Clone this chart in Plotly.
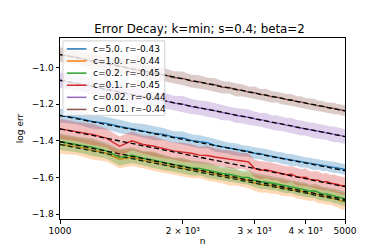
import plotly.graph_objects as go

# ── Data ──────────────────────────────────────────────────────────────────
N = list(range(1000, 5001, 100))

LABELS = ["c=5.0. r=-0.43", "c=1.0. r=-0.44", "c=0.2. r=-0.45",
          "c=0.1. r=-0.45", "c=0.02. r=-0.44", "c=0.01. r=-0.44"]
COLORS = ["#1f77b4", "#ff7f0e", "#2ca02c", "#d62728", "#9467bd", "#8c564b"]
FILLS = ["rgba(31,119,180,0.3)", "rgba(255,127,14,0.3)", "rgba(44,160,44,0.3)",
         "rgba(214,39,40,0.3)", "rgba(148,103,189,0.3)", "rgba(140,86,75,0.3)"]

err_c5 = [-1.262, -1.275, -1.295, -1.305, -1.322, -1.335, -1.345, -1.358, -1.365, -1.380,
          -1.385, -1.398, -1.405, -1.410, -1.425, -1.432, -1.440, -1.448, -1.455, -1.458,
          -1.468, -1.470, -1.478, -1.485, -1.488, -1.495, -1.500, -1.505, -1.508, -1.515,
          -1.518, -1.522, -1.528, -1.530, -1.535, -1.538, -1.542, -1.545, -1.548, -1.552, -1.556]
err_c1 = [-1.420, -1.432, -1.450, -1.468, -1.500, -1.490, -1.505, -1.515, -1.530, -1.540,
          -1.548, -1.558, -1.562, -1.572, -1.580, -1.590, -1.598, -1.600, -1.612, -1.615,
          -1.630, -1.638, -1.640, -1.645, -1.650, -1.655, -1.660, -1.665, -1.670, -1.675,
          -1.680, -1.688, -1.685, -1.695, -1.700, -1.705, -1.708, -1.712, -1.720, -1.728, -1.730]
err_c02 = [-1.405, -1.420, -1.435, -1.455, -1.490, -1.478, -1.495, -1.505, -1.518, -1.530,
           -1.535, -1.548, -1.550, -1.560, -1.570, -1.578, -1.582, -1.590, -1.598, -1.600,
           -1.615, -1.622, -1.625, -1.630, -1.635, -1.640, -1.648, -1.650, -1.658, -1.662,
           -1.668, -1.675, -1.672, -1.680, -1.688, -1.690, -1.695, -1.700, -1.705, -1.712, -1.715]
err_c01 = [-1.335, -1.350, -1.365, -1.385, -1.430, -1.400, -1.420, -1.430, -1.445, -1.455,
           -1.462, -1.468, -1.478, -1.480, -1.488, -1.495, -1.500, -1.505, -1.510, -1.515,
           -1.550, -1.560, -1.558, -1.565, -1.570, -1.580, -1.585, -1.582, -1.595, -1.600,
           -1.598, -1.610, -1.612, -1.615, -1.625, -1.622, -1.630, -1.632, -1.638, -1.645, -1.645]
err_c002 = [-1.070, -1.086, -1.103, -1.122, -1.132, -1.150, -1.158, -1.172, -1.180, -1.195,
            -1.200, -1.213, -1.220, -1.228, -1.236, -1.246, -1.252, -1.262, -1.266, -1.272,
            -1.280, -1.285, -1.290, -1.300, -1.303, -1.308, -1.316, -1.318, -1.326, -1.330,
            -1.333, -1.340, -1.344, -1.348, -1.352, -1.356, -1.362, -1.365, -1.368, -1.373, -1.376]
err_c001 = [-0.930, -0.945, -0.968, -0.978, -0.992, -1.010, -1.018, -1.033, -1.040, -1.055,
            -1.060, -1.075, -1.080, -1.090, -1.095, -1.108, -1.110, -1.122, -1.125, -1.135,
            -1.138, -1.148, -1.150, -1.160, -1.162, -1.170, -1.175, -1.178, -1.186, -1.188,
            -1.195, -1.200, -1.203, -1.210, -1.212, -1.218, -1.221, -1.224, -1.228, -1.232, -1.236]

# half-width of the shaded band
sd_c5 = [0.038, 0.035, 0.040, 0.034, 0.037, 0.033, 0.036, 0.039, 0.034, 0.032,
         0.036, 0.033, 0.035, 0.031, 0.034, 0.032, 0.030, 0.034, 0.031, 0.029,
         0.032, 0.030, 0.033, 0.031, 0.029, 0.032, 0.030, 0.033, 0.029, 0.031,
         0.028, 0.030, 0.032, 0.028, 0.030, 0.027, 0.029, 0.031, 0.028, 0.029, 0.030]
sd_c1 = [0.050, 0.046, 0.052, 0.045, 0.049, 0.047, 0.044, 0.050, 0.046, 0.043,
         0.047, 0.045, 0.042, 0.046, 0.044, 0.041, 0.045, 0.043, 0.040, 0.044,
         0.042, 0.045, 0.041, 0.043, 0.040, 0.044, 0.042, 0.039, 0.043, 0.041,
         0.044, 0.040, 0.042, 0.045, 0.041, 0.043, 0.040, 0.044, 0.042, 0.046, 0.043]
sd_c02 = [0.045, 0.042, 0.047, 0.041, 0.044, 0.043, 0.040, 0.045, 0.042, 0.039,
          0.043, 0.041, 0.038, 0.042, 0.040, 0.037, 0.041, 0.039, 0.036, 0.040,
          0.038, 0.041, 0.037, 0.039, 0.036, 0.040, 0.038, 0.035, 0.039, 0.037,
          0.040, 0.036, 0.038, 0.041, 0.037, 0.039, 0.036, 0.040, 0.038, 0.041, 0.039]
sd_c01 = [0.055, 0.052, 0.058, 0.050, 0.054, 0.051, 0.049, 0.055, 0.050, 0.047,
          0.052, 0.049, 0.046, 0.051, 0.048, 0.045, 0.049, 0.047, 0.044, 0.048,
          0.046, 0.049, 0.045, 0.047, 0.044, 0.048, 0.046, 0.043, 0.047, 0.045,
          0.048, 0.044, 0.046, 0.049, 0.045, 0.047, 0.044, 0.048, 0.046, 0.049, 0.047]
sd_c002 = [0.042, 0.040, 0.044, 0.039, 0.042, 0.045, 0.041, 0.038, 0.043, 0.040,
           0.044, 0.041, 0.039, 0.043, 0.040, 0.042, 0.038, 0.041, 0.039, 0.042,
           0.040, 0.037, 0.041, 0.039, 0.042, 0.038, 0.040, 0.043, 0.039, 0.041,
           0.038, 0.040, 0.042, 0.039, 0.041, 0.038, 0.040, 0.043, 0.039, 0.041, 0.040]
sd_c001 = [0.040, 0.038, 0.042, 0.036, 0.040, 0.035, 0.038, 0.041, 0.036, 0.034,
           0.038, 0.035, 0.037, 0.033, 0.036, 0.034, 0.032, 0.036, 0.033, 0.031,
           0.034, 0.030, 0.033, 0.031, 0.029, 0.032, 0.030, 0.033, 0.029, 0.031,
           0.028, 0.030, 0.032, 0.028, 0.030, 0.027, 0.029, 0.031, 0.028, 0.029, 0.030]

# fitted power-law lines: value at n=1000 and n=5000
FIT_N = [1000, 5000]
fit_c5 = [-1.262, -1.563]
fit_c1 = [-1.420, -1.728]
fit_c02 = [-1.405, -1.720]
fit_c01 = [-1.335, -1.650]
fit_c002 = [-1.070, -1.377]
fit_c001 = [-0.930, -1.237]

MEANS = [err_c5, err_c1, err_c02, err_c01, err_c002, err_c001]
SDS = [sd_c5, sd_c1, sd_c02, sd_c01, sd_c002, sd_c001]
FITS = [fit_c5, fit_c1, fit_c02, fit_c01, fit_c002, fit_c001]

FONT = "DejaVu Sans, sans-serif"

# plot area in pixels (used to place the hand-built legend)
L, R, T, B = 46, 337, 30, 217
W, H = 374, 249


def px(x):
    return (x - L) / (R - L)


def py(y):
    return (B - y) / (B - T)


fig = go.Figure()

for i in range(6):
    m, s = MEANS[i], SDS[i]
    lo = [a - b for a, b in zip(m, s)]
    hi = [a + b for a, b in zip(m, s)]
    fig.add_trace(go.Scatter(x=N + N[::-1], y=hi + lo[::-1], fill="toself",
                             fillcolor=FILLS[i], line=dict(width=0),
                             mode="lines", showlegend=False, hoverinfo="skip"))
    fig.add_trace(go.Scatter(x=N, y=m, mode="lines", name=LABELS[i], showlegend=False,
                             line=dict(color=COLORS[i], width=1.4)))
    fig.add_trace(go.Scatter(x=FIT_N, y=FITS[i], mode="lines", showlegend=False,
                             line=dict(color="black", width=1.3, dash="5px,3px")))

# ── Legend (matplotlib-like, compact) ───────────────────────────────────
shapes = [dict(type="rect", xref="paper", yref="paper", layer="above",
               x0=px(49), x1=px(153), y0=py(110), y1=py(33),
               fillcolor="rgba(255,255,255,0.8)", line=dict(color="#d0d0d0", width=1))]
annotations = []
for i, lab in enumerate(LABELS):
    yc = 41.3 + 12.5 * i
    shapes.append(dict(type="line", xref="paper", yref="paper", layer="above",
                       x0=px(53), x1=px(73), y0=py(yc), y1=py(yc),
                       line=dict(color=COLORS[i], width=1.5)))
    annotations.append(dict(text=lab, xref="paper", yref="paper", x=px(78), y=py(yc),
                            xanchor="left", yanchor="middle", showarrow=False,
                            font=dict(size=9, color="black")))

fig.update_layout(
    width=W, height=H,
    margin=dict(l=L, r=W - R, t=T, b=H - B),
    paper_bgcolor="white", plot_bgcolor="white",
    font=dict(family=FONT, size=9, color="black"),
    title=dict(text="Error Decay; k=min; s=0.4; beta=2", x=0.512, xanchor="center",
               y=1 - 20.5 / H, yanchor="middle", font=dict(size=11.8)),
    showlegend=False,
    shapes=shapes,
    annotations=annotations,
)
fig.update_xaxes(type="log", range=[3, 3.69897], showgrid=False, zeroline=False,
                 showline=True, linecolor="black", linewidth=1, mirror=True,
                 ticks="outside", ticklen=3.5, tickcolor="black",
                 tickvals=[1000, 2000, 3000, 4000, 5000],
                 ticktext=["1000", "2 × 10³", "3 × 10³", "4 × 10³", "5000"],
                 title=dict(text="n", standoff=2, font=dict(size=9)))
fig.update_yaxes(range=[-1.826, -0.84], showgrid=False, zeroline=False,
                 showline=True, linecolor="black", linewidth=1, mirror=True,
                 ticks="outside", ticklen=3.5, tickcolor="black",
                 tickvals=[-1.8, -1.6, -1.4, -1.2, -1.0],
                 ticktext=["−1.8", "−1.6", "−1.4", "−1.2", "−1.0"],
                 title=dict(text="log err", standoff=6, font=dict(size=9)))

fig.write_html("out.html")
